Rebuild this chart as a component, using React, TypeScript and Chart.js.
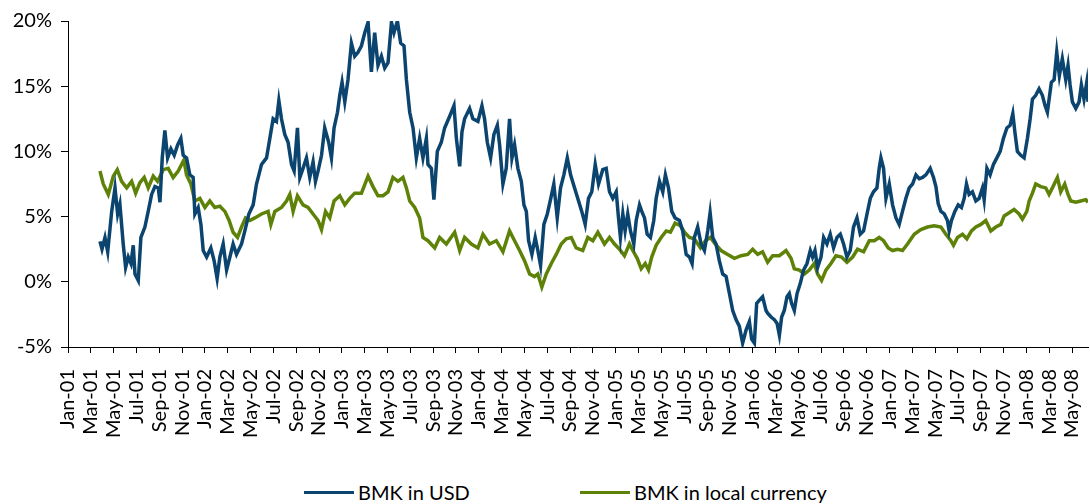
import React, { useEffect, useRef } from "react";
import { Chart, registerables } from "chart.js";

Chart.register(...registerables);

// x positions are months elapsed since Jan-01 (0 = 1 Jan 2001)
const MONTH_LABELS = [
  "Jan-01", "Mar-01", "May-01", "Jul-01", "Sep-01", "Nov-01",
  "Jan-02", "Mar-02", "May-02", "Jul-02", "Sep-02", "Nov-02",
  "Jan-03", "Mar-03", "May-03", "Jul-03", "Sep-03", "Nov-03",
  "Jan-04", "Mar-04", "May-04", "Jul-04", "Sep-04", "Nov-04",
  "Jan-05", "Mar-05", "May-05", "Jul-05", "Sep-05", "Nov-05",
  "Jan-06", "Mar-06", "May-06", "Jul-06", "Sep-06", "Nov-06",
  "Jan-07", "Mar-07", "May-07", "Jul-07", "Sep-07", "Nov-07",
  "Jan-08", "Mar-08", "May-08",
];

const USD_T = [
  2.80, 2.98, 3.24, 3.48, 3.83, 4.12, 4.35, 4.55, 4.84, 5.05, 5.28, 5.52, 5.72, 5.87, 6.16, 6.39, 6.74, 7.03, 7.33, 7.62,
  7.91, 8.06, 8.26, 8.49, 8.73, 9.02, 9.31, 9.61, 9.89, 10.10, 10.39, 10.68, 10.97, 11.12, 11.41, 11.65, 11.85, 12.15, 12.52, 12.81,
  13.07, 13.31, 13.60, 13.90, 14.19, 14.47, 14.77, 15.21, 15.50, 15.85, 16.23, 16.52, 16.73, 16.96, 17.40, 17.69, 17.98, 18.27, 18.48, 18.71,
  19.00, 19.29, 19.59, 19.82, 20.11, 20.32, 20.60, 20.90, 21.19, 21.48, 21.69, 21.92, 22.22, 22.50, 22.85, 23.09, 23.32, 23.62, 23.82, 24.02,
  24.26, 24.54, 24.84, 25.13, 25.42, 25.72, 26.01, 26.30, 26.59, 26.88, 27.17, 27.47, 27.76, 28.05, 28.35, 28.57, 28.87, 29.16, 29.45, 29.66,
  29.95, 30.24, 30.53, 30.82, 31.11, 31.41, 31.55, 31.85, 32.07, 32.37, 32.72, 33.01, 33.36, 33.60, 33.83, 34.04, 34.33, 34.53, 34.76, 35.20,
  35.49, 35.93, 36.28, 36.51, 36.75, 37.04, 37.33, 37.63, 37.83, 38.12, 38.41, 38.70, 38.91, 39.14, 39.43, 39.73, 39.96, 40.17, 40.37, 40.66,
  40.95, 41.18, 41.42, 41.71, 42.01, 42.29, 42.58, 42.88, 43.17, 43.46, 43.76, 44.05, 44.40, 44.75, 45.03, 45.33, 45.62, 45.91, 46.21, 46.50,
  46.87, 47.17, 47.46, 47.75, 48.05, 48.25, 48.42, 48.63, 48.83, 49.06, 49.30, 49.59, 49.80, 50.09, 50.29, 50.53, 50.76, 51.05, 51.34, 51.55,
  51.84, 52.13, 52.36, 52.63, 52.92, 53.21, 53.59, 53.88, 54.18, 54.47, 54.70, 54.90, 55.19, 55.49, 55.78, 56.07, 56.28, 56.51, 56.80, 57.09,
  57.38, 57.68, 57.97, 58.26, 58.55, 58.84, 59.13, 59.43, 59.72, 59.92, 60.16, 60.36, 60.60, 60.88, 61.18, 61.32, 61.62, 61.91, 62.15, 62.35,
  62.55, 62.78, 63.02, 63.22, 63.42, 63.66, 63.90, 64.19, 64.47, 64.77, 65.06, 65.26, 65.47, 65.70, 66.00, 66.23, 66.52, 66.81, 67.10, 67.40,
  67.69, 67.98, 68.27, 68.56, 68.85, 69.15, 69.44, 69.73, 70.03, 70.32, 70.60, 70.90, 71.10, 71.25, 71.48, 71.69, 71.98, 72.27, 72.57, 72.85,
  73.14, 73.44, 73.73, 74.02, 74.32, 74.61, 74.90, 75.19, 75.57, 75.86, 76.07, 76.27, 76.51, 76.80, 77.08, 77.23, 77.43, 77.73, 78.02, 78.31,
  78.55, 78.75, 78.98, 79.27, 79.57, 79.86, 80.15, 80.30, 80.54, 80.82, 81.11, 81.41, 81.70, 81.99, 82.29, 82.57, 82.81, 82.99, 83.21, 83.51,
  83.80, 84.09, 84.33, 84.53, 84.82, 85.11, 85.40, 85.64, 85.84, 85.99, 86.19, 86.43, 86.66, 86.89, 87.15, 87.45, 87.65, 87.83, 88.03, 88.33,
  88.62, 88.82, 89.05, 89.29, 89.40,
];

const USD_V = [
  3.1, 2.5, 3.4, 2.3, 5.4, 7.2, 5.2, 5.95, 2.9, 1.1, 1.9, 1.4, 2.8, 0.6, 0.1, 3.4, 4.2, 5.4, 6.7, 7.3,
  7.2, 6.1, 9.5, 11.6, 9.5, 10.2, 9.7, 10.5, 11.0, 9.7, 9.5, 8.2, 8.0, 5.2, 5.7, 4.4, 2.4, 1.9, 2.6, 1.6,
  0.25, 1.9, 2.9, 0.9, 1.9, 2.9, 2.1, 2.9, 3.9, 5.2, 5.9, 7.5, 8.2, 9.0, 9.5, 11.0, 12.5, 12.3, 13.9, 12.5,
  11.3, 10.7, 9.0, 8.5, 11.8, 8.0, 8.7, 9.5, 8.0, 9.2, 7.7, 8.5, 9.7, 11.8, 10.7, 9.5, 11.8, 13.0, 14.3, 15.3,
  13.8, 15.5, 18.3, 17.3, 17.6, 18.1, 19.1, 19.9, 16.1, 19.1, 16.6, 17.3, 16.4, 16.8, 19.9, 19.1, 20.0, 18.3, 18.1, 15.5,
  13.0, 11.8, 9.5, 11.0, 9.5, 11.0, 9.0, 8.7, 6.3, 10.0, 10.7, 11.8, 12.5, 13.0, 13.5, 11.0, 8.85, 11.5, 12.5, 13.3,
  12.5, 12.3, 13.5, 12.5, 10.7, 9.5, 11.3, 12.0, 10.5, 7.5, 8.7, 12.5, 9.5, 10.5, 8.7, 7.7, 5.9, 5.4, 3.15, 2.1,
  3.4, 2.4, 1.25, 4.4, 5.2, 6.3, 7.5, 4.9, 7.2, 8.2, 9.5, 8.2, 7.2, 6.2, 5.4, 4.4, 6.4, 6.9, 9.0, 7.5,
  8.6, 8.7, 6.9, 6.4, 6.9, 4.9, 3.4, 5.2, 3.9, 5.2, 3.9, 2.9, 4.7, 5.9, 5.4, 4.9, 3.65, 3.4, 4.7, 6.4,
  7.7, 6.9, 8.2, 7.2, 5.4, 4.9, 4.7, 3.9, 2.1, 1.9, 1.4, 3.4, 4.2, 2.9, 2.4, 3.9, 5.3, 3.4, 2.9, 1.6,
  0.6, 0.4, -0.9, -2.2, -2.9, -3.4, -4.7, -3.7, -3.05, -4.4, -4.7, -1.65, -1.4, -1.15, -2.2, -2.4, -2.7, -2.9, -3.2, -4.1,
  -2.7, -2.2, -1.15, -0.9, -1.65, -2.2, -0.9, -0.1, 0.9, 1.4, 2.4, 1.9, 2.4, 1.1, 1.9, 3.4, 2.9, 3.65, 2.6, 3.4,
  3.65, 2.9, 1.9, 2.4, 4.2, 4.9, 3.65, 3.9, 5.2, 6.4, 6.9, 7.2, 8.7, 9.5, 8.7, 6.4, 7.5, 5.9, 4.9, 4.4,
  5.4, 6.4, 7.2, 7.5, 8.2, 7.9, 8.0, 8.2, 8.7, 8.0, 7.3, 6.0, 5.4, 5.2, 4.7, 3.9, 4.7, 5.4, 5.9, 5.7,
  6.4, 7.5, 6.7, 6.9, 6.2, 6.4, 7.2, 6.3, 8.7, 8.2, 9.0, 9.5, 10.0, 11.0, 11.8, 12.0, 12.9, 11.5, 10.0, 9.7,
  9.5, 11.0, 12.5, 14.0, 14.3, 14.8, 14.3, 13.5, 13.0, 14.0, 15.3, 15.5, 17.6, 15.8, 17.1, 15.5, 16.6, 15.1, 13.8, 13.3,
  13.8, 15.1, 14.0, 15.3, 13.8,
];

const LOCAL_T = [
  2.80, 3.09, 3.53, 3.97, 4.32, 4.70, 5.14, 5.58, 5.93, 6.30, 6.68, 7.03, 7.47, 7.85, 8.35, 8.78, 9.22, 9.66, 10.16, 10.39,
  10.77, 11.12, 11.56, 12.00, 12.43, 12.87, 13.31, 13.75, 14.12, 14.47, 14.86, 15.21, 15.56, 15.94, 16.37, 16.96, 17.54, 17.78, 18.13, 18.71,
  19.15, 19.44, 19.73, 20.11, 20.60, 21.04, 21.48, 21.92, 22.22, 22.57, 22.94, 23.32, 23.82, 24.26, 24.69, 25.13, 25.72, 26.30, 26.73, 27.17,
  27.61, 28.05, 28.48, 28.92, 29.36, 29.66, 29.95, 30.39, 30.82, 31.11, 31.55, 32.14, 32.57, 33.16, 33.89, 34.33, 34.76, 35.35, 35.93, 36.37,
  36.95, 37.54, 38.12, 38.70, 39.14, 39.58, 40.02, 40.46, 40.89, 41.18, 41.53, 41.92, 42.36, 42.79, 43.23, 43.67, 44.11, 44.54, 45.12, 45.56,
  46.00, 46.44, 47.02, 47.46, 47.90, 48.34, 48.77, 49.21, 49.50, 49.89, 50.24, 50.59, 50.88, 51.16, 51.55, 51.99, 52.43, 52.80, 53.21, 53.68,
  54.03, 54.47, 54.90, 55.43, 55.87, 56.30, 56.72, 57.24, 57.82, 58.41, 58.99, 59.57, 60.01, 60.45, 60.88, 61.32, 61.76, 62.35, 62.93, 63.37,
  63.66, 64.10, 64.54, 64.97, 65.41, 65.70, 66.05, 66.43, 66.87, 67.31, 67.80, 68.27, 68.77, 69.20, 69.73, 70.23, 70.67, 71.10, 71.48, 71.89,
  72.27, 72.71, 73.14, 73.58, 74.17, 74.75, 75.33, 75.92, 76.51, 76.94, 77.38, 77.61, 77.96, 78.40, 78.78, 79.19, 79.57, 80.01, 80.44, 80.88,
  81.32, 81.76, 82.05, 82.49, 82.92, 83.36, 83.65, 84.04, 84.24, 84.53, 84.82, 85.26, 85.70, 85.99, 86.28, 86.72, 87.01, 87.36, 87.65, 87.89,
  88.33, 88.76, 89.20, 89.40,
];

const LOCAL_V = [
  8.5, 7.5, 6.7, 8.1, 8.6, 7.7, 7.2, 7.7, 6.8, 7.6, 8.0, 7.2, 8.1, 7.7, 8.6, 8.7, 8.0, 8.5, 9.35, 8.2,
  7.5, 6.2, 6.4, 5.7, 6.2, 5.7, 5.8, 5.4, 4.7, 3.8, 3.4, 4.2, 4.9, 4.7, 4.9, 5.2, 5.4, 4.4, 5.4, 5.7,
  6.2, 6.7, 5.4, 6.6, 5.9, 5.7, 5.2, 4.7, 4.0, 5.4, 4.9, 6.2, 6.6, 5.9, 6.4, 6.8, 6.8, 8.1, 7.3, 6.6,
  6.6, 6.9, 8.0, 7.7, 8.0, 7.2, 6.2, 5.7, 4.9, 3.4, 3.15, 2.6, 3.4, 2.9, 3.8, 2.4, 3.4, 2.9, 2.6, 3.65,
  2.9, 3.15, 2.3, 3.9, 3.15, 2.4, 1.6, 0.6, 0.4, 0.6, -0.4, 0.6, 1.4, 2.1, 2.9, 3.3, 3.4, 2.6, 2.4, 3.4,
  3.15, 3.8, 2.9, 3.4, 2.9, 2.5, 2.0, 2.9, 2.4, 1.8, 1.0, 1.4, 0.9, 1.9, 2.8, 3.4, 3.9, 3.8, 4.5, 4.3,
  3.8, 3.4, 3.3, 2.6, 3.15, 3.4, 2.9, 2.4, 2.1, 1.8, 2.0, 2.1, 2.5, 2.1, 2.3, 1.5, 2.0, 2.0, 2.4, 1.8,
  1.0, 0.9, 0.6, 0.9, 1.4, 0.6, 0.1, 0.9, 1.4, 2.0, 1.9, 1.5, 1.9, 2.5, 2.3, 3.15, 3.15, 3.4, 3.15, 2.6,
  2.4, 2.5, 2.4, 2.9, 3.65, 4.0, 4.2, 4.3, 4.2, 3.65, 3.15, 2.8, 3.4, 3.65, 3.3, 3.9, 4.2, 4.4, 4.7, 3.9,
  4.2, 4.4, 5.05, 5.3, 5.55, 5.2, 4.8, 5.4, 6.2, 6.8, 7.5, 7.3, 7.2, 6.7, 7.2, 8.0, 6.9, 7.5, 6.7, 6.2,
  6.1, 6.2, 6.3, 6.1,
];

const SERIES_NAMES = ["BMK in USD", "BMK in local currency"];
const SERIES_COLORS = ["#0B446E", "#5E8208"];
const Y_MIN = -5;
const Y_MAX = 20;
const X_MAX = 89.4;

const FONT = "Lato, 'Open Sans', sans-serif";

export default function App() {
  const ref = useRef<HTMLCanvasElement | null>(null);

  useEffect(() => {
    if (!ref.current) return;
    const toPts = (t: number[], v: number[]) => t.map((x, i) => ({ x, y: v[i] }));
    const chart = new Chart(ref.current, {
      type: "line",
      data: {
        datasets: [
          {
            label: SERIES_NAMES[0],
            data: toPts(USD_T, USD_V),
            borderColor: SERIES_COLORS[0],
            backgroundColor: SERIES_COLORS[0],
            borderWidth: 3.5,
            pointRadius: 0,
            tension: 0,
          },
          {
            label: SERIES_NAMES[1],
            data: toPts(LOCAL_T, LOCAL_V),
            borderColor: SERIES_COLORS[1],
            backgroundColor: SERIES_COLORS[1],
            borderWidth: 3.5,
            pointRadius: 0,
            tension: 0,
          },
        ],
      },
      options: {
        animation: false,
        responsive: false,
        maintainAspectRatio: false,
        layout: { padding: { top: 17, right: 2, left: 0, bottom: 0 } },
        plugins: { legend: { display: false }, tooltip: { enabled: false } },
        scales: {
          x: {
            type: "linear",
            min: 0,
            max: X_MAX,
            afterFit: (s: any) => { s.height = 113; s.paddingRight = 0; s.paddingLeft = 0; },
            border: { color: "#000", width: 1 },
            grid: { drawOnChartArea: false, drawTicks: true, tickLength: 6, color: "#000" },
            ticks: {
              stepSize: 2,
              includeBounds: false,
              autoSkip: false,
              maxRotation: 90,
              minRotation: 90,
              padding: 16,
              color: "#000",
              font: { family: FONT, size: 20 },
              callback: (v: any) => {
                const n = Number(v);
                if (Math.abs(n % 2) > 1e-6) return "";
                return MONTH_LABELS[Math.round(n / 2)] ?? "";
              },
            },
          },
          y: {
            min: Y_MIN,
            max: Y_MAX,
            afterFit: (s: any) => { s.width = 68; },
            border: { color: "#000", width: 1 },
            grid: { drawOnChartArea: false, drawTicks: true, tickLength: 7, color: "#000" },
            ticks: {
              stepSize: 5,
              padding: 9,
              color: "#000",
              font: { family: FONT, size: 20 },
              callback: (v: any) => `${v}%`,
            },
          },
        },
      },
    });
    return () => chart.destroy();
  }, []);

  const legendItem = (i: number, left: number) => (
    <div
      key={i}
      style={{
        position: "absolute",
        left,
        top: 480,
        height: 24,
        display: "flex",
        alignItems: "center",
        fontFamily: FONT,
        fontSize: 20,
        color: "#000",
        whiteSpace: "nowrap",
      }}
    >
      <span style={{ display: "inline-block", width: 50, height: 3, background: SERIES_COLORS[i], marginRight: 4 }} />
      <span>{SERIES_NAMES[i]}</span>
    </div>
  );

  return (
    <div style={{ position: "fixed", left: 0, top: 0, width: 1090, height: 504, background: "#fff" }}>
      <canvas ref={ref} width={1090} height={460} style={{ display: "block" }} />
      {legendItem(0, 304)}
      {legendItem(1, 580)}
    </div>
  );
}
